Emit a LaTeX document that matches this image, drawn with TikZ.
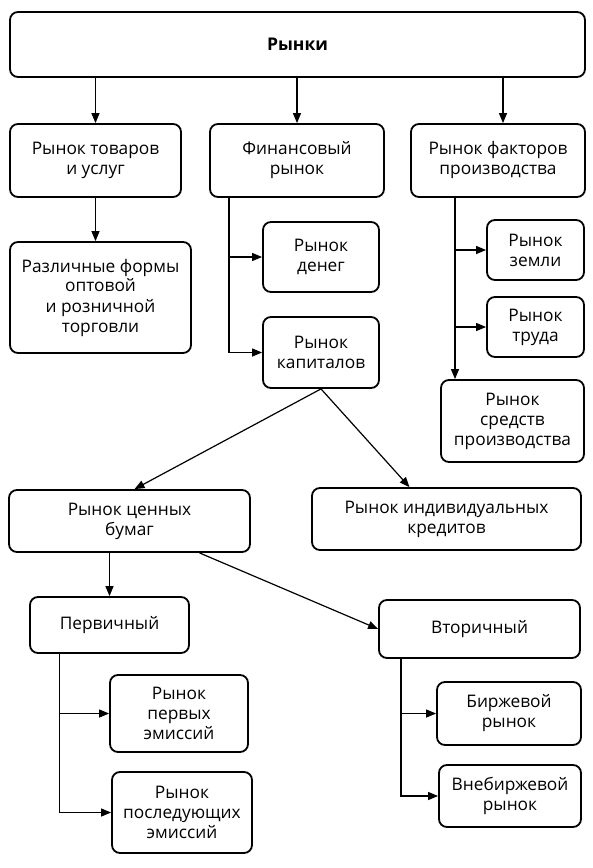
\documentclass[tikz,border=0pt]{standalone}
\usepackage{fontspec}
\setmainfont{Open Sans}
\usetikzlibrary{arrows.meta}
\begin{document}
\begin{tikzpicture}[x=1pt,y=-1pt,
  box/.style={draw, line width=1.8pt, rounded corners=8pt, align=center, inner sep=2pt,
    font=\fontsize{17.3}{20}\selectfont},
  arr/.style={line width=1.2pt, -{Triangle[length=10pt,width=8pt]}},
  ln/.style={line width=1.2pt}]
\useasboundingbox (0,0) rectangle (593,868);
% boxes
\node[box, minimum width=575pt, minimum height=65pt, font=\fontsize{17.5}{20}\selectfont\bfseries] (top) at (297.5,44.5) {Рынки};
\node[box, minimum width=171pt, minimum height=73pt] (tov) at (95.5,160.5) {Рынок товаров\\и услуг};
\node[box, minimum width=174pt, minimum height=73pt] (fin) at (297,160.5) {Финансовый\\рынок};
\node[box, minimum width=174pt, minimum height=73pt] (fak) at (498,160.5) {Рынок факторов\\производства};
\node[box, minimum width=181pt, minimum height=111pt] (razl) at (100.5,297.5) {Различные формы\\оптовой\\и розничной\\торговли};
\node[box, minimum width=116pt, minimum height=70pt] (den) at (321,257) {Рынок\\денег};
\node[box, minimum width=116pt, minimum height=71pt] (kap) at (321,352.5) {Рынок\\капиталов};
\node[box, minimum width=97pt, minimum height=60pt] (zem) at (535.5,250) {Рынок\\земли};
\node[box, minimum width=97pt, minimum height=60pt] (trud) at (535.5,327) {Рынок\\труда};
\node[box, minimum width=143pt, minimum height=82pt] (sred) at (512.5,421) {Рынок\\средств\\производства};
\node[box, minimum width=241pt, minimum height=62pt] (cen) at (129.5,521) {Рынок ценных\\бумаг};
\node[box, minimum width=269pt, minimum height=62pt] (ind) at (446.5,519) {Рынок индивидуальных\\кредитов};
\node[box, minimum width=159pt, minimum height=56pt] (perv) at (109.5,625) {Первичный};
\node[box, minimum width=201pt, minimum height=58pt] (vtor) at (479.5,629) {Вторичный};
\node[box, minimum width=138pt, minimum height=77pt] (perv1) at (179,713.5) {Рынок\\первых\\эмиссий};
\node[box, minimum width=140pt, minimum height=81pt] (posl) at (182,812.5) {Рынок\\последующих\\эмиссий};
\node[box, minimum width=144pt, minimum height=63pt] (birzh) at (509,713.5) {Биржевой\\рынок};
\node[box, minimum width=142pt, minimum height=62pt] (vneb) at (510,796) {Внебиржевой\\рынок};
% trunk coordinates
\coordinate (finT) at ([xshift=-68pt]fin.south);
\coordinate (fakT) at ([xshift=-43pt]fak.south);
\coordinate (pervT) at ([xshift=-50pt]perv.south);
\coordinate (vtorT) at ([xshift=-78.5pt]vtor.south);
% connectors
\draw[arr] (tov.north |- top.south) -- (tov.north);
\draw[arr] (fin.north |- top.south) -- (fin.north);
\draw[arr] ([xshift=5pt]fak.north |- top.south) -- ([xshift=5pt]fak.north);
\draw[arr] (tov.south) -- (tov.south |- razl.north);
\draw[arr] (finT) |- (den.west);
\draw[arr] (finT) |- (kap.west);
\draw[arr] (fakT) -- (fakT |- sred.north);
\draw[arr] (fakT |- zem.west) -- (zem.west);
\draw[arr] (fakT |- trud.west) -- (trud.west);
\draw[arr] (kap.south) -- ([xshift=5pt]cen.north);
\draw[arr] (kap.south) -- ([xshift=-37pt]ind.north);
\draw[arr] (perv.north |- cen.south) -- (perv.north);
\draw[arr] ([xshift=70pt]cen.south) -- (vtor.west);
\draw[arr] (pervT) |- (perv1.west);
\draw[arr] (pervT) |- (posl.west);
\draw[arr] (vtorT) |- (birzh.west);
\draw[arr] (vtorT) |- (vneb.west);
\end{tikzpicture}
\end{document}
